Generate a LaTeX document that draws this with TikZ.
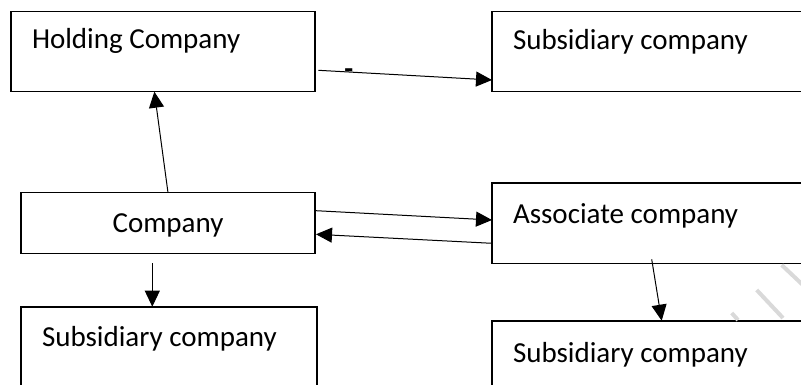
\documentclass[tikz,border=0pt]{standalone}
\usepackage{fontspec}
\setmainfont{Carlito}
\usetikzlibrary{arrows.meta,calc}
\begin{document}
\begin{tikzpicture}[x=1pt,y=-1pt,
  box/.style={draw=black,line width=1.6pt,inner sep=0pt,outer sep=0pt,anchor=north west},
  lbl/.style={inner sep=0pt,outer sep=0pt,font=\fontsize{29}{34}\selectfont},
  conn/.style={draw=black,line width=1pt,-{Triangle[length=16pt,width=15pt]}},
  wmark/.style={draw=black!15,line width=4pt}]
\useasboundingbox (0,0) rectangle (801,385);
\clip (0,0) rectangle (801,385);
% boxes
\node[box,minimum width=304.3pt,minimum height=80pt] (holding) at (10.7,11.7) {};
\node[box,minimum width=340pt,minimum height=80pt] (subtr) at (492,11.7) {};
\node[box,minimum width=294pt,minimum height=60.6pt] (company) at (21,192.7) {};
\node[box,minimum width=340pt,minimum height=80pt] (assoc) at (492,183.3) {};
\node[box,minimum width=295.7pt,minimum height=100pt] (subbl) at (21,306.7) {};
\node[box,minimum width=340pt,minimum height=100pt] (subbr) at (492,320.7) {};
% texts
\node[lbl,anchor=base west] (tholding) at (32,49) {Holding Company};
\node[lbl,anchor=base west] (tsubtr) at (513,50) {Subsidiary company};
\node[lbl,anchor=base] (tcompany) at (168,232) {Company};
\node[lbl,anchor=base west] (tassoc) at (513,223) {Associate company};
\node[lbl,anchor=base west] (tsubbl) at (42,346) {Subsidiary company};
\node[lbl,anchor=base west] (tsubbr) at (513,362) {Subsidiary company};
\node[lbl,anchor=base,font=\fontsize{29}{34}\selectfont\bfseries] (dash) at (348.7,78.5) {-};
% watermark strokes
\draw[wmark] (781.7,265) -- (805,287);
\draw[wmark] (756.7,290) -- (783,318);
\draw[wmark] (731.7,313) -- (738,320);
% connectors
\coordinate (hstart) at ($(holding.north east)+(3.3,58.6)$);
\draw[conn] (company.north) -- ($(holding.south west)!0.472!(holding.south east)$);
\draw[conn] (hstart) -- ($(subtr.north west)+(0,68.3)$);
\draw[conn] ($(company.north east)+(1,18)$) -- ($(assoc.north west)+(0,36.7)$);
\draw[conn] ($(assoc.north west)+(0,60)$) -- ($(company.north east)+(1,41.6)$);
\coordinate (dstart) at ($(company.south west)+(131.3,10)$);
\draw[conn] (dstart) -- (dstart |- subbl.north);
\coordinate (astart) at ($(assoc.north west)+(159.7,76)$);
\draw[conn] (astart) -- ($(subbr.north west)+(169.7,0)$);
\end{tikzpicture}
\end{document}
